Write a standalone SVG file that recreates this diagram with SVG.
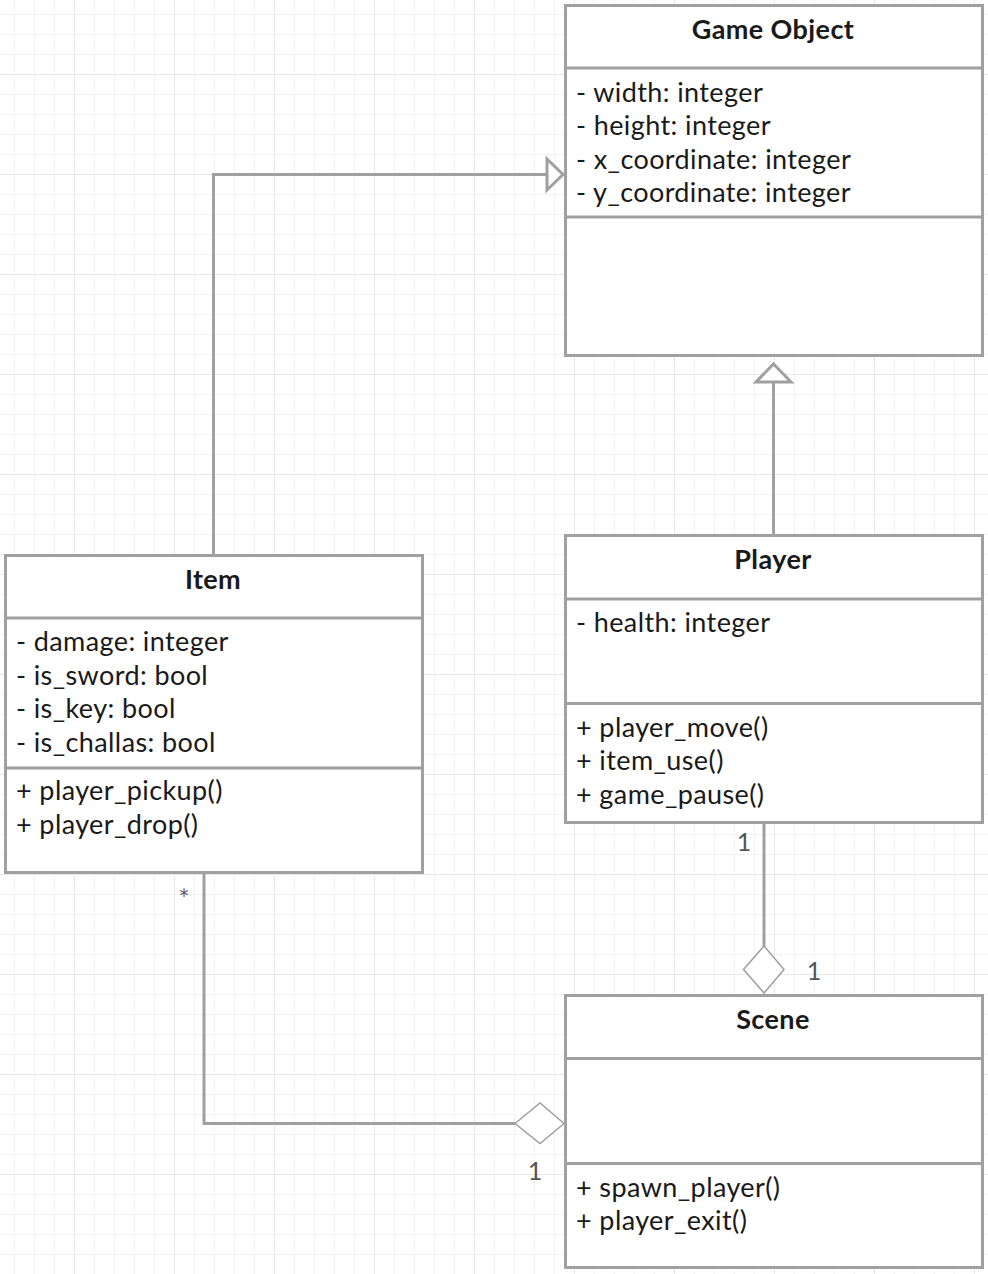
<svg xmlns="http://www.w3.org/2000/svg" width="988" height="1274" viewBox="0 0 988 1274">
<style>
.box{fill:#fff;stroke:#a0a0a0;stroke-width:3}
.div{stroke:#a0a0a0;stroke-width:3}
.title{font-family:Lato,"Liberation Sans",sans-serif;font-weight:bold;font-size:27px;letter-spacing:0.4px;fill:#1a1a1a;text-anchor:middle}
.txt{font-family:Lato,"Liberation Sans",sans-serif;font-size:27px;letter-spacing:0.4px;fill:#1a1a1a}
.conn{fill:none;stroke:#a0a0a0;stroke-width:3}
.head{fill:#fff;stroke:#a0a0a0;stroke-width:3}
.dia{fill:#fff;stroke:#a0a0a0;stroke-width:1.5}
.lbl{font-family:Lato,"Liberation Sans",sans-serif;font-size:25px;fill:#555;text-anchor:middle}
</style>
<defs>
<pattern id="minor" width="20" height="20" patternUnits="userSpaceOnUse" x="14" y="14">
<rect x="0" y="0" width="20" height="1" fill="#f3f3f3"/>
<rect x="0" y="0" width="1" height="20" fill="#f3f3f3"/>
</pattern>
<pattern id="major" width="100" height="100" patternUnits="userSpaceOnUse" x="74" y="74">
<rect x="0" y="0" width="100" height="1" fill="#e8e8e8"/>
<rect x="0" y="0" width="1" height="100" fill="#e8e8e8"/>
</pattern>
</defs>
<rect width="988" height="1274" fill="#fff"/>
<rect width="988" height="1274" fill="url(#minor)"/>
<rect width="988" height="1274" fill="url(#major)"/>

<g id="connectors">
<polyline class="conn" points="213.5,555 213.5,174.5 547,174.5"/>
<polygon class="head" points="547,159 547,190 563,174.5"/>
<line class="conn" x1="773.5" y1="535" x2="773.5" y2="382"/>
<polygon class="head" points="756,382 791,382 773.5,364"/>
<line class="conn" x1="764" y1="822" x2="764" y2="946"/>
<polygon class="dia" points="764,946 784,969.5 764,993 743.5,969.5"/>
<polyline class="conn" points="204,872 204,1123.5 515,1123.5"/>
<polygon class="dia" points="515,1123.5 540,1103 564,1123.5 540,1143.5"/>
<text class="lbl" x="744" y="851">1</text>
<text class="lbl" x="814" y="980">1</text>
<text class="lbl" x="535" y="1180">1</text>
<text class="lbl" x="184" y="909" style="font-size:27px;fill:#666">*</text>
</g>

<g id="game-object">
<rect class="box" x="565.5" y="5.5" width="417" height="350"/>
<line class="div" x1="565.5" y1="68" x2="982.5" y2="68"/>
<line class="div" x1="565.5" y1="217" x2="982.5" y2="217"/>
<text class="title" x="773" y="39">Game Object</text>
<text class="txt" x="576" y="101.5">- width: integer</text>
<text class="txt" x="576" y="135">- height: integer</text>
<text class="txt" x="576" y="168.5">- x_coordinate: integer</text>
<text class="txt" x="576" y="202">- y_coordinate: integer</text>
</g>

<g id="item">
<rect class="box" x="5.5" y="555.5" width="417" height="317"/>
<line class="div" x1="5.5" y1="618" x2="422.5" y2="618"/>
<line class="div" x1="5.5" y1="768" x2="422.5" y2="768"/>
<text class="title" x="213" y="588.5">Item</text>
<text class="txt" x="16" y="651">- damage: integer</text>
<text class="txt" x="16" y="684.5">- is_sword: bool</text>
<text class="txt" x="16" y="718">- is_key: bool</text>
<text class="txt" x="16" y="751.5">- is_challas: bool</text>
<text class="txt" x="16" y="800">+ player_pickup()</text>
<text class="txt" x="16" y="833.5">+ player_drop()</text>
</g>

<g id="player">
<rect class="box" x="565.5" y="535.5" width="417" height="287"/>
<line class="div" x1="565.5" y1="599" x2="982.5" y2="599"/>
<line class="div" x1="565.5" y1="703.5" x2="982.5" y2="703.5"/>
<text class="title" x="773" y="568.5">Player</text>
<text class="txt" x="576" y="631.5">- health: integer</text>
<text class="txt" x="576" y="736.5">+ player_move()</text>
<text class="txt" x="576" y="770">+ item_use()</text>
<text class="txt" x="576" y="803.5">+ game_pause()</text>
</g>

<g id="scene">
<rect class="box" x="565.5" y="995.5" width="417" height="272"/>
<line class="div" x1="565.5" y1="1058.5" x2="982.5" y2="1058.5"/>
<line class="div" x1="565.5" y1="1163.5" x2="982.5" y2="1163.5"/>
<text class="title" x="773" y="1028.5">Scene</text>
<text class="txt" x="576" y="1196.5">+ spawn_player()</text>
<text class="txt" x="576" y="1230">+ player_exit()</text>
</g>
</svg>
